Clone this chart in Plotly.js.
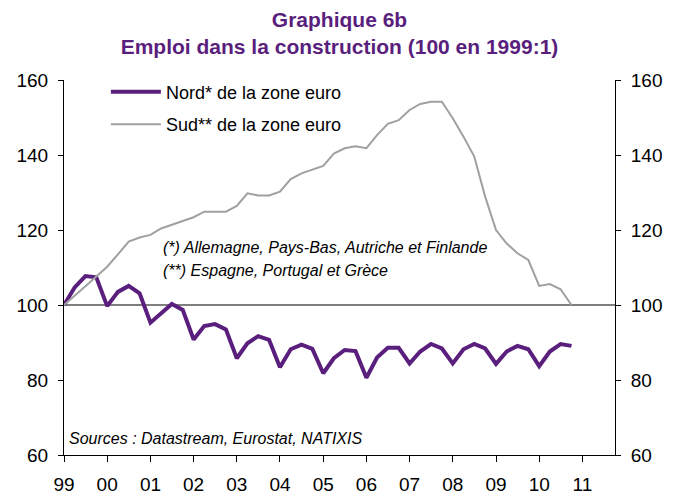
<!DOCTYPE html>
<html>
<head>
<meta charset="utf-8">
<script src="https://cdn.plot.ly/plotly-3.0.1.min.js"></script>
<style>html,body{margin:0;padding:0;background:#fff}#chart{width:681px;height:497px}</style>
</head>
<body>
<div id="chart"></div>
<script>
// Quarterly observations, 1999Q1 .. 2010Q4
const startYear = 1999;
const endYear = 2010;
const quarterMonths = ['01', '04', '07', '10'];
const quarters = [];
for (let y = startYear; y <= endYear; y++) {
  for (const m of quarterMonths) quarters.push(y + '-' + m + '-01');
}

const nord = [
  100.0, 104.7, 107.7, 107.4,
  99.7, 103.5, 105.1, 103.1,
  95.3, 97.8, 100.3, 98.7,
  90.8, 94.4, 94.9, 93.5,
  85.8, 89.8, 91.7, 90.7,
  83.4, 88.2, 89.4, 88.3,
  81.8, 85.8, 88.0, 87.7,
  80.6, 86.0, 88.6, 88.6,
  84.4, 87.6, 89.6, 88.4,
  84.4, 88.2, 89.6, 88.4,
  84.3, 87.6, 89.1, 88.2,
  83.7, 87.6, 89.6, 89.1
];

const sud = [
  100.0, 102.4, 105.0, 107.6,
  110.2, 113.5, 116.9, 118.0,
  118.7, 120.4, 121.3, 122.4,
  123.4, 124.9, 124.9, 124.9,
  126.4, 129.8, 129.2, 129.2,
  130.2, 133.6, 135.1, 136.2,
  137.1, 140.4, 141.8, 142.3,
  141.8, 145.3, 148.3, 149.3,
  152.0, 153.6, 154.2, 154.2,
  149.8, 144.9, 139.6, 128.9,
  120.0, 116.4, 113.8, 112.0,
  105.1, 105.6, 104.2, 100.0
];

const xTickVals = ['1999-01-01','2000-01-01','2001-01-01','2002-01-01','2003-01-01','2004-01-01','2005-01-01','2006-01-01','2007-01-01','2008-01-01','2009-01-01','2010-01-01','2011-01-01'];
const xTickText = ['99','00','01','02','03','04','05','06','07','08','09','10','11'];
const yTicks = [60, 80, 100, 120, 140, 160];

const seriesNames = ['Nord* de la zone euro', 'Sud** de la zone euro'];
const titleLines = ['Graphique 6b', 'Emploi dans la construction (100 en 1999:1)'];
const notes = ['(*) Allemagne, Pays-Bas, Autriche et Finlande', '(**) Espagne, Portugal et Grèce'];
const sourceText = 'Sources : Datastream, Eurostat, NATIXIS';

const FONT = 'Arial, "Liberation Sans", sans-serif';
const PURPLE = '#5a1f7d';

const traces = [
  {
    x: quarters, y: nord, name: seriesNames[0], type: 'scatter', mode: 'lines',
    line: {color: PURPLE, width: 4}, legendgroup: 'a', xaxis: 'x', yaxis: 'y'
  },
  {
    x: quarters, y: sud, name: seriesNames[1], type: 'scatter', mode: 'lines',
    line: {color: '#a0a0a0', width: 2}, legendgroup: 'b', xaxis: 'x', yaxis: 'y2'
  }
];

const layout = {
  width: 681, height: 497,
  margin: {l: 64, r: 66, t: 80, b: 42},
  paper_bgcolor: '#fff', plot_bgcolor: '#fff',
  font: {family: FONT, color: '#000'},
  title: {
    text: titleLines.join('<br>'),
    font: {family: FONT, size: 21, color: PURPLE, weight: 'bold'},
    x: 0.5, xref: 'paper', xanchor: 'center',
    y: 0.946, yref: 'container', yanchor: 'top'
  },
  showlegend: true,
  legend: {
    x: 0.076, xanchor: 'left', y: 1.017, yanchor: 'top',
    bgcolor: 'rgba(0,0,0,0)', font: {family: FONT, size: 18, color: '#000'},
    tracegroupgap: 6, itemwidth: 50
  },
  xaxis: {
    type: 'date', range: ['1999-01-01', '2011-10-04'],
    tickvals: xTickVals, ticktext: xTickText,
    ticks: 'outside', ticklen: 6, tickcolor: '#000',
    showline: true, linecolor: '#000', linewidth: 1,
    showgrid: false, zeroline: false,
    tickfont: {family: FONT, size: 19, color: '#000'},
    ticklabelstandoff: 6
  },
  yaxis: {
    range: [60, 160], tickvals: yTicks,
    ticks: 'outside', ticklen: 5, tickcolor: '#000',
    showline: true, linecolor: '#000', linewidth: 1,
    showgrid: false, zeroline: false,
    tickfont: {family: FONT, size: 19, color: '#000'},
    ticklabelstandoff: 6
  },
  yaxis2: {
    range: [60, 160], tickvals: yTicks, overlaying: 'y', side: 'right',
    ticks: 'outside', ticklen: 5, tickcolor: '#000',
    showline: true, linecolor: '#000', linewidth: 1,
    showgrid: false, zeroline: false,
    tickfont: {family: FONT, size: 19, color: '#000'},
    ticklabelstandoff: 6
  },
  shapes: [{
    type: 'line', xref: 'paper', x0: 0, x1: 1, yref: 'y', y0: 100, y1: 100,
    line: {color: '#7f7f7f', width: 2}, layer: 'below'
  }],
  annotations: [
    {text: notes[0], xref: 'paper', yref: 'paper', x: 0.176, y: 0.552, xanchor: 'left', yanchor: 'middle', showarrow: false,
     font: {family: FONT, size: 16, color: '#000', style: 'italic'}},
    {text: notes[1], xref: 'paper', yref: 'paper', x: 0.176, y: 0.493, xanchor: 'left', yanchor: 'middle', showarrow: false,
     font: {family: FONT, size: 16, color: '#000', style: 'italic'}},
    {text: sourceText, xref: 'paper', yref: 'paper', x: 0.006, y: 0.045, xanchor: 'left', yanchor: 'middle', showarrow: false,
     font: {family: FONT, size: 16, color: '#000', style: 'italic'}}
  ]
};

Plotly.newPlot('chart', traces, layout, {staticPlot: true, displayModeBar: false});
</script>
</body>
</html>
